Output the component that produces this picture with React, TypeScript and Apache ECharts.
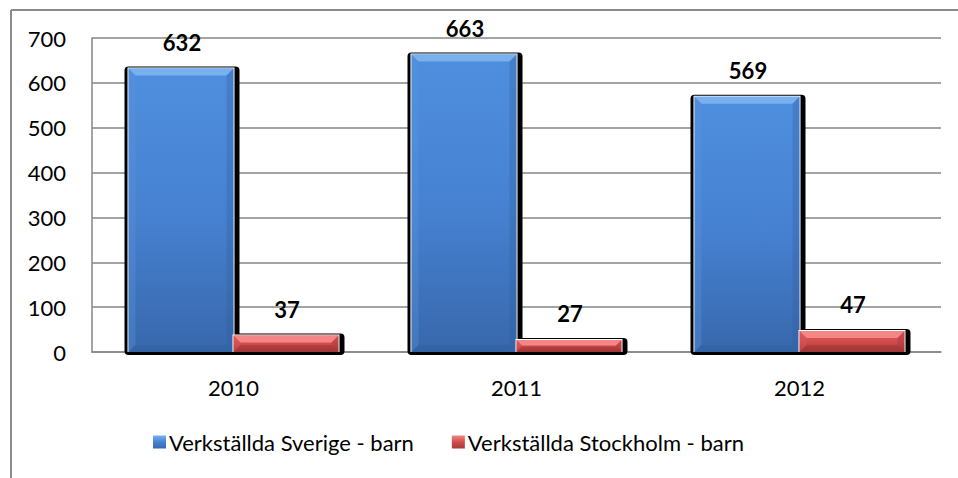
import React, { useEffect, useRef } from "react";
import * as echarts from "echarts";

const categories = ["2010", "2011", "2012"];
const sverige = [632, 663, 569];
const stockholm = [37, 27, 47];
const seriesNames = ["Verkställda Sverige - barn", "Verkställda Stockholm - barn"];
const yMin = 0;
const yMax = 700;
const yInterval = 100;

const FONT = "Lato, Carlito, Calibri, sans-serif";

type Palette = { top: string; mid: string; bot: string; bevelTop: string; bevelSide: string; bevelDark: string };
const bluePal: Palette = { top: "#4f8ede", mid: "#4782d2", bot: "#3868ac", bevelTop: "#78b0f0", bevelSide: "#5a95dc", bevelDark: "#2f5d9c" };
const redPal: Palette = { top: "#e25a5a", mid: "#d24c4c", bot: "#a83a3a", bevelTop: "#f58686", bevelSide: "#dc5a5a", bevelDark: "#962f2f" };

const BAR_FRAC = 0.371;

function geom(idx: number, api: any) {
  const cat = api.value(0);
  const val = api.value(1);
  const top = api.coord([cat, val]);
  const base = api.coord([cat, 0]);
  const band = api.size([1, 0])[0];
  const w = band * BAR_FRAC;
  const x = idx === 0 ? top[0] - w : top[0];
  return { x, y: top[1], w, h: base[1] - top[1], val };
}

function shadowRender(idx: number) {
  return (_p: any, api: any) => {
    const g = geom(idx, api);
    return {
      type: "rect",
      shape: { x: g.x - 4, y: g.y - 2, width: g.w + 10, height: g.h + 5, r: 4 },
      style: { fill: "#000" },
    };
  };
}

function barRender(idx: number, pal: Palette) {
  return (_p: any, api: any) => {
    const { x, y, w, h, val } = geom(idx, api);
    const b = Math.min(7, h / 2.2);
    const grad = new echarts.graphic.LinearGradient(0, 0, 0, 1, [
      { offset: 0, color: pal.top },
      { offset: 0.5, color: pal.mid },
      { offset: 1, color: pal.bot },
    ]);
    return {
      type: "group",
      children: [
        { type: "rect", shape: { x: x - 1, y: y - 1, width: w + 2, height: h + 1 }, style: { fill: "#fff" } },
        { type: "rect", shape: { x, y, width: w, height: h }, style: { fill: grad } },
        {
          type: "polygon",
          shape: { points: [[x, y], [x + w, y], [x + w - b, y + b], [x + b, y + b]] },
          style: { fill: pal.bevelTop },
        },
        {
          type: "polygon",
          shape: { points: [[x, y], [x + b, y + b], [x + b, y + h - b], [x, y + h]] },
          style: { fill: pal.bevelSide, opacity: 0.35 },
        },
        {
          type: "polygon",
          shape: { points: [[x + w, y], [x + w - b, y + b], [x + w - b, y + h - b], [x + w, y + h]] },
          style: { fill: pal.bevelDark, opacity: 0.3 },
        },
        {
          type: "polygon",
          shape: { points: [[x, y + h], [x + b, y + h - b], [x + w - b, y + h - b], [x + w, y + h]] },
          style: { fill: pal.bevelDark, opacity: 0.4 },
        },
        {
          type: "text",
          style: {
            text: String(val),
            x: x + w / 2 + 1,
            y: y - 26,
            textAlign: "center",
            textVerticalAlign: "middle",
            font: `bold 22px ${FONT}`,
            fill: "#000",
          },
        },
      ],
    };
  };
}

function legendIcon(pal: Palette) {
  return new echarts.graphic.LinearGradient(0, 0, 0, 1, [
    { offset: 0, color: pal.bevelTop },
    { offset: 0.5, color: pal.mid },
    { offset: 1, color: pal.bot },
  ]);
}

export default function App() {
  const ref = useRef<HTMLDivElement>(null);
  useEffect(() => {
    if (!ref.current) return;
    const chart = echarts.init(ref.current, undefined, { renderer: "svg" });
    const d0 = sverige.map((v, i) => [i, v]);
    const d1 = stockholm.map((v, i) => [i, v]);
    chart.setOption({
      animation: false,
      textStyle: { fontFamily: FONT },
      grid: { left: 92, right: 17, top: 38, bottom: 126 },
      graphic: [
        { type: "line", shape: { x1: 11, y1: 10, x2: 958, y2: 10 }, style: { stroke: "#8a8a8a", lineWidth: 2 } },
        { type: "line", shape: { x1: 11, y1: 10, x2: 11, y2: 478 }, style: { stroke: "#8a8a8a", lineWidth: 2 } },
      ],
      legend: {
        left: 148,
        top: 426,
        itemWidth: 13,
        itemHeight: 13,
        itemGap: 38,
        textStyle: { fontFamily: FONT, fontSize: 22, color: "#000", padding: [0, 0, 0, -2] },
        data: [
          { name: seriesNames[0], icon: "rect", itemStyle: { color: legendIcon(bluePal) } },
          { name: seriesNames[1], icon: "rect", itemStyle: { color: legendIcon(redPal) } },
        ],
      },
      xAxis: {
        type: "category",
        data: categories,
        axisLine: { lineStyle: { color: "#868686", width: 1.5 } },
        axisTick: { show: false },
        axisLabel: { fontSize: 22, color: "#000", margin: 24, fontFamily: FONT },
      },
      yAxis: {
        type: "value",
        min: yMin,
        max: yMax,
        interval: yInterval,
        axisLine: { show: true, lineStyle: { color: "#868686", width: 1.5 } },
        axisTick: { show: false },
        splitLine: { lineStyle: { color: "#868686", width: 1.5 } },
        axisLabel: { fontSize: 22, color: "#000", margin: 26, fontFamily: FONT },
      },
      series: [
        { type: "custom", name: "shadow0", z: 1, data: d0, encode: { x: 0, y: 1 }, renderItem: shadowRender(0), silent: true },
        { type: "custom", name: "shadow1", z: 1, data: d1, encode: { x: 0, y: 1 }, renderItem: shadowRender(1), silent: true },
        { type: "custom", name: seriesNames[0], z: 2, data: d0, encode: { x: 0, y: 1 }, renderItem: barRender(0, bluePal), itemStyle: { color: bluePal.mid } },
        { type: "custom", name: seriesNames[1], z: 2, data: d1, encode: { x: 0, y: 1 }, renderItem: barRender(1, redPal), itemStyle: { color: redPal.mid } },
      ],
    });
    return () => chart.dispose();
  }, []);
  return <div ref={ref} style={{ position: "fixed", left: 0, top: 0, width: 958, height: 478, background: "#fff" }} />;
}
